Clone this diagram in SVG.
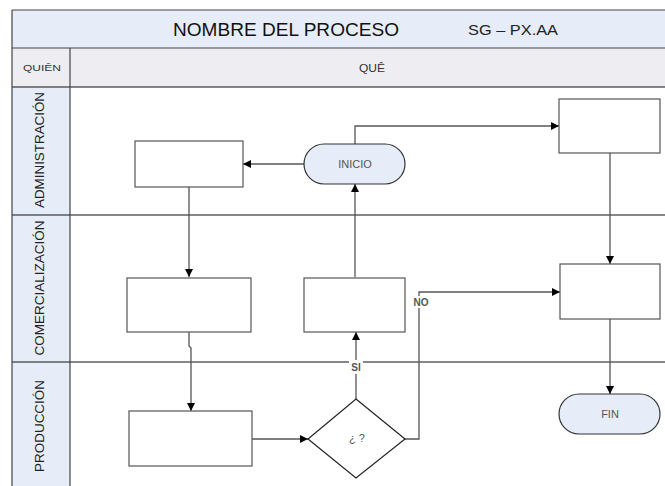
<svg xmlns="http://www.w3.org/2000/svg" width="665" height="486" viewBox="0 0 665 486">
  <defs>
    <marker id="arrow" viewBox="0 0 10 10" refX="10" refY="5" markerWidth="8" markerHeight="8" markerUnits="userSpaceOnUse" orient="auto">
      <path d="M0,0 L10,5 L0,10 Z" fill="#000"/>
    </marker>
    <style>
      text { font-family: "Liberation Sans", Arial, sans-serif; }
      .hdr { fill: #e6edf8; }
      .sub { fill: #eeedf2; }
      .frame { stroke: #444; stroke-width: 1.2; fill: none; }
      .lane { stroke: #111; stroke-width: 1.2; fill: none; }
      .box { fill: #fff; stroke: #555; stroke-width: 1.2; }
      .term { fill: #e6edf8; stroke: #333; stroke-width: 1.2; }
      .edge { fill: none; stroke: #555; stroke-width: 1.3; marker-end: url(#arrow); }
      .laneLabel { font-size: 13px; fill: #222; text-anchor: middle; }
      .nodeText { font-size: 11px; fill: #555; text-anchor: middle; dominant-baseline: central; }
      .edgeLabel { font-size: 10px; fill: #555; text-anchor: middle; font-weight: bold; }
    </style>
  </defs>

  <!-- table frame -->
  <g id="table">
    <rect class="hdr" x="12" y="10" width="653" height="38"/>
    <rect class="sub" x="12" y="48" width="653" height="39"/>
    <rect class="hdr" x="12" y="87" width="58" height="399"/>
    <rect fill="#fff" x="70" y="87" width="595" height="399"/>
    <line class="frame" x1="12" y1="10" x2="665" y2="10"/>
    <line class="frame" x1="12" y1="48" x2="665" y2="48" stroke="#777"/>
    <line class="lane" x1="12" y1="87" x2="665" y2="87"/>
    <line class="lane" x1="12" y1="215" x2="665" y2="215"/>
    <line class="lane" x1="12" y1="362" x2="665" y2="362"/>
    <line class="frame" x1="12" y1="10" x2="12" y2="486"/>
    <line class="frame" x1="70" y1="48" x2="70" y2="486"/>
    <text x="286" y="36" font-size="19" fill="#111" text-anchor="middle" textLength="226" lengthAdjust="spacingAndGlyphs">NOMBRE DEL PROCESO</text>
    <text x="513" y="35" font-size="15" fill="#222" text-anchor="middle" textLength="90" lengthAdjust="spacingAndGlyphs">SG – PX.AA</text>
    <text x="42" y="71" font-size="9" fill="#333" text-anchor="middle" textLength="38" lengthAdjust="spacingAndGlyphs">QUIÊN</text>
    <text x="372" y="72" font-size="10" fill="#333" text-anchor="middle" textLength="26" lengthAdjust="spacingAndGlyphs">QUÊ</text>
    <text class="laneLabel" transform="translate(44,150) rotate(-90)" textLength="116" lengthAdjust="spacingAndGlyphs">ADMINISTRACIÓN</text>
    <text class="laneLabel" transform="translate(44,288) rotate(-90)" textLength="135" lengthAdjust="spacingAndGlyphs">COMERCIALIZACIÓN</text>
    <text class="laneLabel" transform="translate(44,426) rotate(-90)" textLength="92" lengthAdjust="spacingAndGlyphs">PRODUCCIÓN</text>
  </g>

  <!-- connectors -->
  <g id="connectors">
    <path class="edge" d="M304,164 H243"/>
    <path class="edge" d="M189,187 V277"/>
    <path class="edge" d="M189,332 V346 L191,348 V411"/>
    <path class="edge" d="M252,439 H308"/>
    <path class="edge" d="M356,399 V332"/>
    <path class="edge" d="M355,277 V184"/>
    <path class="edge" d="M355,144 V126 H559"/>
    <path class="edge" d="M610,153 V264"/>
    <path class="edge" d="M405,439 H419 V292 H560"/>
    <path class="edge" d="M610,319 V394"/>
    <rect x="349" y="360" width="14" height="14" fill="#fff"/>
    <text class="edgeLabel" x="356" y="371">SI</text>
    <rect x="411" y="296" width="19" height="12" fill="#fff"/>
    <text class="edgeLabel" x="421" y="306">NO</text>
  </g>

  <!-- nodes -->
  <g id="inicio">
    <rect class="term" x="304" y="144" width="101" height="40" rx="20" ry="20"/>
    <text class="nodeText" x="355" y="164">INICIO</text>
  </g>
  <g id="admin-task-1">
    <rect class="box" x="135" y="141" width="108" height="46"/>
  </g>
  <g id="admin-task-2">
    <rect class="box" x="559" y="99" width="101" height="54"/>
  </g>
  <g id="comercial-task-1">
    <rect class="box" x="127" y="278" width="124" height="54"/>
  </g>
  <g id="comercial-task-2">
    <rect class="box" x="304" y="278" width="101" height="54"/>
  </g>
  <g id="comercial-task-3">
    <rect class="box" x="560" y="264" width="100" height="55"/>
  </g>
  <g id="produccion-task-1">
    <rect class="box" x="129" y="411" width="123" height="55"/>
  </g>
  <g id="decision">
    <polygon points="356,399 405,439 356,478 308,439" fill="#fff" stroke="#222" stroke-width="1.2"/>
    <text class="nodeText" x="357" y="438" font-size="10">¿ ?</text>
  </g>
  <g id="fin">
    <rect class="term" x="559" y="394" width="101" height="40" rx="20" ry="20"/>
    <text class="nodeText" x="610" y="414">FIN</text>
  </g>
</svg>
